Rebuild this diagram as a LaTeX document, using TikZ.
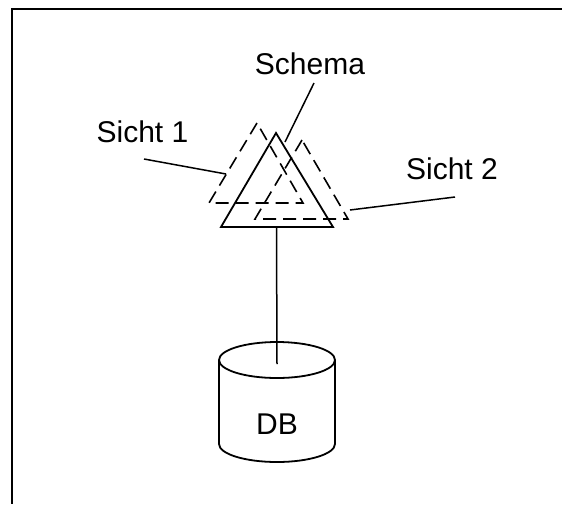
\documentclass[tikz,border=0pt]{standalone}
\usepackage{fontspec}
\setmainfont{Liberation Sans}
\usepackage{tikz}

\begin{document}
\begin{tikzpicture}[x=1pt,y=-1pt,line join=miter,
  label/.style={inner sep=0pt,font=\fontsize{30}{36}\selectfont},
  schema/.style={line width=1.8pt},
  view/.style={line width=1.6pt,dash pattern=on 13pt off 7pt},
  lead/.style={line width=1.5pt}]
  \useasboundingbox (0,0) rectangle (562,504);
  \draw[line width=2pt] (562,9) -- (12,9) -- (12,504);

  % triangle corners
  \coordinate (sa) at (276,133);
  \coordinate (sl) at (221,227);
  \coordinate (sr) at (333,227);
  \coordinate (s1a) at (257,123);
  \coordinate (s1l) at (209,203);
  \coordinate (s1r) at (303,203);
  \coordinate (s2a) at (302,140);
  \coordinate (s2l) at (255,219);
  \coordinate (s2r) at (348,219);

  \draw[view] (s1a) -- (s1l) -- (s1r) -- cycle;
  \draw[view] (s2a) -- (s2l) -- (s2r) -- cycle;
  \draw[schema] (sa) -- (sl) -- (sr) -- cycle;

  % database
  \node[label] (db) at (277,424) {DB};
  \draw[schema] (277,360) ellipse[x radius=58,y radius=18];
  \draw[schema] (219,360) -- (219,444)
    arc[start angle=180,end angle=0,x radius=58,y radius=18] -- (335,360);

  \node[label] (schema) at (310,64) {Schema};
  \node[label] (sicht1) at (142.5,132) {Sicht 1};
  \node[label] (sicht2) at (452,168.5) {Sicht 2};

  \coordinate (sbase) at (276.5,227);
  \coordinate (dbtop) at (277,364);
  \coordinate (sedge) at (285,142);
  \coordinate (s1edge) at (226,174);
  \coordinate (s2edge) at (350,210);

  \draw[lead] (sbase) -- (dbtop);
  \draw[lead] (314,83) -- (sedge);
  \draw[lead] (144,159) -- (s1edge);
  \draw[lead] (455,197) -- (s2edge);
\end{tikzpicture}
\end{document}
